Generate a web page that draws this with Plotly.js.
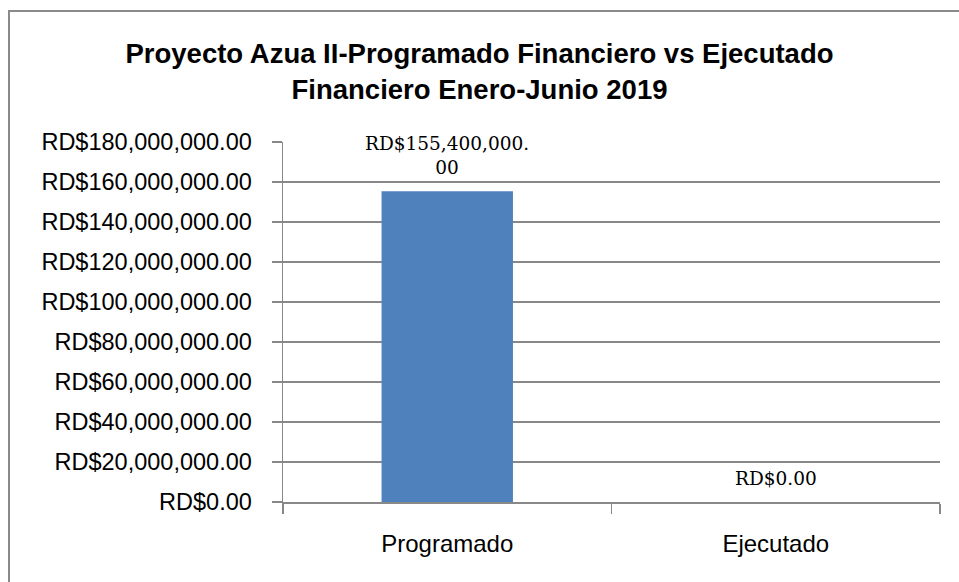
<!DOCTYPE html>
<html>
<head>
<meta charset="utf-8">
<script src="https://cdn.plot.ly/plotly-3.0.1.min.js"></script>
<style>
  html, body { margin: 0; padding: 0; overflow: hidden; background: #fff; }
  #chart { position: absolute; left: 0; top: 0; width: 959px; height: 582px; }
  #frame { position: absolute; left: 8px; top: 10px; width: 1200px; height: 1200px;
           border: 2px solid #8a8a8a; pointer-events: none; box-sizing: border-box; }
</style>
</head>
<body>
<div id="chart"></div>
<div id="frame"></div>
<script>
const titleText = "Proyecto Azua II-Programado Financiero vs Ejecutado<br>Financiero Enero-Junio 2019";
const categories = ["Programado", "Ejecutado"];
const values = [155400000, 0];
const labelTexts = ["RD$155,400,000.<br>00", "RD$0.00"];

const trace = {
  type: "bar",
  x: categories,
  y: values,
  marker: { color: "#4F81BD" },
  hoverinfo: "x+y"
};

const annotations = categories.map((c, i) => ({
  x: c, y: values[i], xref: "x", yref: "y",
  text: labelTexts[i], showarrow: false,
  yanchor: "bottom", yshift: 11,
  font: { family: "DejaVu Serif", size: 18.5, color: "#000" }
}));

const layout = {
  width: 959, height: 582,
  paper_bgcolor: "#fff", plot_bgcolor: "#fff",
  margin: { l: 283, r: 19, t: 142, b: 80 },
  title: {
    text: titleText,
    font: { family: "Liberation Sans", size: 27.5, color: "#000", weight: "bold" },
    x: 0.5, xanchor: "center", y: 1 - 63 / 582, yanchor: "middle"
  },
  bargap: 0.6,
  showlegend: false,
  xaxis: {
    type: "category",
    showline: true, linecolor: "#888", linewidth: 1.5,
    ticks: "outside", tickson: "boundaries", ticklen: 10, tickcolor: "#888", tickwidth: 1.5,
    showgrid: false,
    ticklabelstandoff: 20,
    tickfont: { family: "Liberation Sans", size: 24, color: "#000" },
    automargin: false
  },
  yaxis: {
    range: [0, 180000000],
    dtick: 20000000, tick0: 0,
    tickprefix: "RD$", tickformat: ",.2f",
    showline: true, linecolor: "#888", linewidth: 1.5,
    ticks: "outside", ticklen: 10, tickcolor: "#888", tickwidth: 1.5,
    showgrid: true, gridcolor: "#888", gridwidth: 1.5,
    zeroline: false,
    ticklabelstandoff: 15,
    tickfont: { family: "Liberation Sans", size: 23.5, color: "#000" },
    automargin: false
  },
  annotations: annotations
};

Plotly.newPlot("chart", [trace], layout, { displayModeBar: false, staticPlot: true });
</script>
</body>
</html>
